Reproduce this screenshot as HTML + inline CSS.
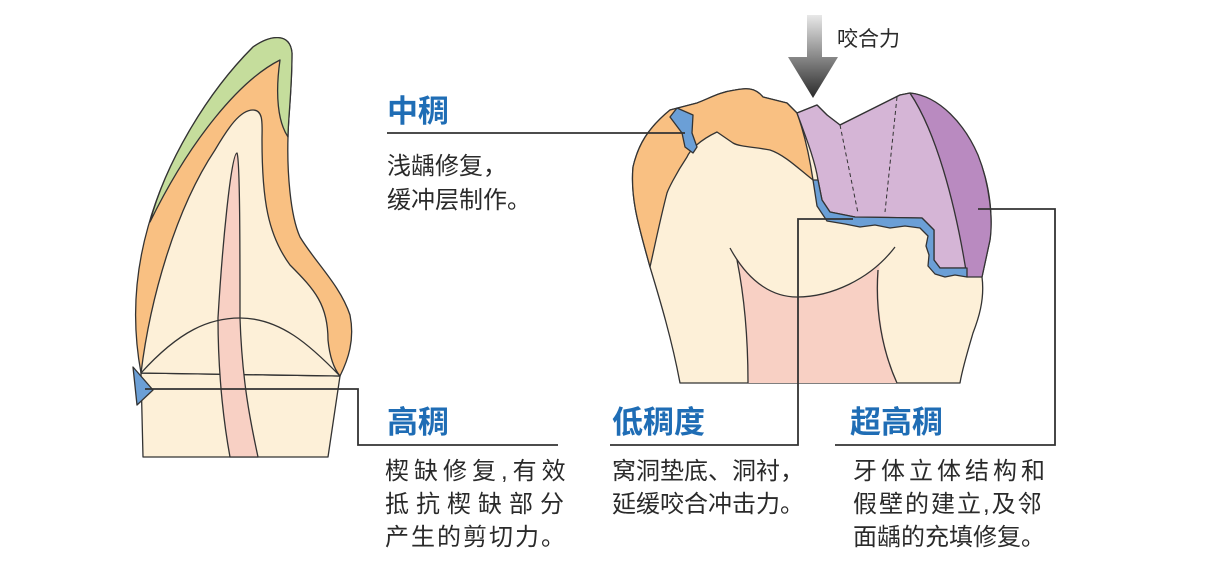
<!DOCTYPE html>
<html><head><meta charset="utf-8"><style>
html,body{margin:0;padding:0;background:#fff;}
svg{display:block}
.t{font-family:"Liberation Sans","Noto Sans CJK SC",sans-serif;font-weight:bold;fill:#1f6db5;font-size:31px}
.b{font-family:"Liberation Sans","Noto Sans CJK SC",sans-serif;fill:#2a2a2a;font-size:24px}
</style></head><body>
<svg width="1223" height="584" viewBox="0 0 1223 584" xmlns="http://www.w3.org/2000/svg">
<defs><linearGradient id="g" x1="0" y1="0" x2="0" y2="1"><stop offset="0" stop-color="#e8e8e8"/><stop offset="1" stop-color="#2a2a2a"/></linearGradient></defs>
<g stroke="#333" stroke-width="1.3" stroke-linejoin="round">
<!-- left tooth -->
<path d="M141,373 L340,376 L328,457 L143,457 Z" fill="#fdf0d8"/>
<path d="M141,373 C133,330 133,280 148,227 C165,165 205,95 253,47 C270,35 290,32 292,53 C292,90 288,120 288,137 C287,170 290,215 300,237 C315,262 340,285 350,315 C355,340 348,360 340,376 Z" fill="#f9c082"/>
<path d="M150,222 C165,165 205,95 253,47 C270,35 290,32 292,53 C292,90 288,120 288,137 C278,122 275,95 280,60 C240,80 190,140 150,222 Z" fill="#c5dd9c"/>
<path d="M141,373 C150,300 175,210 215,150 C228,128 240,110 253,110 C264,110 262,125 262,140 C262,200 268,235 290,265 C315,290 328,305 328,340 C330,360 335,370 340,376 Z" fill="#fdf0d8"/>
<path d="M237,153 C231,153 222,250 218,318 C218,380 225,430 230,457 L258,457 C250,420 242,380 240,318 C240,250 240,160 237,153 Z" fill="#f8d0c4"/>
<path d="M141,373 C180,330 210,318 240,318 C280,318 310,345 340,376" fill="none"/>
<path d="M133,367 L153,390 L137,405 Z" fill="#6b9fd6"/>
<!-- molar -->
<path d="M680,383 C672,340 660,300 650,267 C640,230 630,200 633,167 C638,145 648,128 670,110 L697,103 C710,98 720,92 735,90 C745,88 755,87 763,97 L787,103 L797,113 L817,105 L827,115 L840,125 L900,95 L910,93 C935,96 960,120 975,150 C990,180 993,215 990,240 L982,277 C985,300 978,320 973,333 C968,350 962,370 960,383 Z" fill="#fdf0d8"/>
<path d="M650,267 C640,230 630,200 633,167 C638,145 648,128 670,110 L697,103 C710,98 720,92 735,90 C745,88 755,87 763,97 L787,103 L797,113 C805,135 810,160 813,180 C800,170 785,155 770,150 C755,147 740,147 733,143 L717,132 C700,140 690,150 687,157 C675,175 668,190 667,193 C660,220 655,245 650,267 Z" fill="#f9c082"/>
<path d="M670,117 L677,108 L693,115 L692,133 L697,147 L693,153 L685,147 L682,133 Z" fill="#6b9fd6"/>
<path d="M797,113 L817,105 L827,115 L840,125 L900,95 L910,93 C935,130 955,200 967,268 L940,268 L934,260 L934,230 L922,218 L855,217 L830,212 L822,200 L818,180 C815,160 805,135 797,113 Z" fill="#d5b5d6"/>
<path d="M910,93 C940,96 965,125 978,155 C990,185 993,220 990,240 L982,277 L967,277 C955,200 935,130 910,93 Z" fill="#b98ac0"/>
<path d="M813,180 L818,180 L822,200 L830,212 L855,217 L922,218 L934,230 L934,260 L940,268 L967,268 L967,277 L955,275 L945,277 L935,274 L928,266 L929,255 L926,246 L928,236 L920,228 L905,226 L890,228 L875,225 L860,227 L845,224 L827,221 L817,206 Z" fill="#6b9fd6"/>
<path d="M737,258 C755,285 775,297 797,297 C830,297 865,282 880,262 C876,300 880,340 897,383 L748,383 C746,330 744,290 737,258 Z" fill="#f8d0c4" stroke="none"/>
<path d="M730,248 C750,285 775,297 797,297 C830,297 870,280 895,247" fill="none"/>
<path d="M737,260 C745,300 748,340 748,383 M878,270 C875,310 882,350 897,383" fill="none"/>
<path d="M840,125 L858,213 M897,97 L885,212" fill="none" stroke-dasharray="4,3" stroke-width="1"/>
</g>
<!-- arrow -->
<path d="M807,15 L822,15 L822,57 L838,57 L813,98 L788,57 L807,57 Z" fill="url(#g)"/>
<text x="837" y="46" class="b" style="font-size:21px">咬合力</text>
<!-- leader lines -->
<g stroke="#333" stroke-width="1.8" fill="none">
<path d="M387,133 L685,133"/>
<path d="M145,389 L358,389 L358,445 L558,445"/>
<path d="M853,219 L798,219 L798,445 L610,445"/>
<path d="M978,209 L1055,209 L1055,445 L835,445"/>
</g>
<!-- text -->
<text x="387" y="122" class="t">中稠</text>
<text x="387" y="174" class="b">浅龋修复，</text>
<text x="387" y="208" class="b">缓冲层制作。</text>
<text x="387" y="433" class="t">高稠</text>
<text x="385" y="479" class="b" style="letter-spacing:5px">楔缺修复,有效</text>
<text x="385" y="512" class="b" style="letter-spacing:7px">抵抗楔缺部分</text>
<text x="385" y="545" class="b" style="letter-spacing:2px">产生的剪切力。</text>
<text x="612" y="433" class="t">低稠度</text>
<text x="612" y="479" class="b">窝洞垫底、洞衬，</text>
<text x="612" y="512" class="b">延缓咬合冲击力。</text>
<text x="850" y="433" class="t">超高稠</text>
<text x="853" y="479" class="b" style="letter-spacing:4px">牙体立体结构和</text>
<text x="853" y="512" class="b" style="letter-spacing:2px">假壁的建立,及邻</text>
<text x="853" y="545" class="b">面龋的充填修复。</text>
</svg>
</body></html>
